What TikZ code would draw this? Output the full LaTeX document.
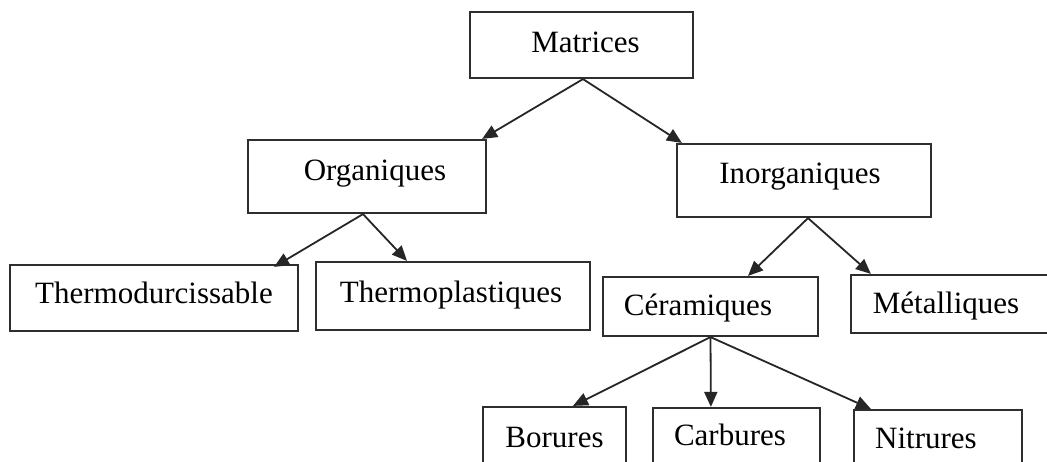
\documentclass[tikz,border=0pt]{standalone}
\usepackage{fontspec}
\setmainfont{Liberation Serif}
\usetikzlibrary{arrows.meta}
\newcommand{\txs}[2]{\hspace*{#1}#2}
\begin{document}
\begin{tikzpicture}[x=1pt,y=-1pt,
  box/.style={draw=black!82, line width=2.2pt, rectangle, inner sep=0pt,
    font=\fontsize{31}{37}\selectfont},
  arr/.style={draw=black!85, line width=1.8pt, -{Triangle[length=15pt,width=13pt]}}]
\useasboundingbox (0,0) rectangle (1047,461);
\clip (0,0) rectangle (1047,461);
\fill[white] (0,0) rectangle (1047,461);
\node[box, minimum width=223pt, minimum height=66pt, text height=21pt, text depth=7pt] (mat) at (581.5,45) {\txs{8pt}{Matrices}};
\node[box, minimum width=238pt, minimum height=73pt, text height=17.5pt, text depth=10.5pt] (org) at (367,176.5) {\txs{16pt}{Organiques}};
\node[box, minimum width=254pt, minimum height=73pt, text height=16.5pt, text depth=11.5pt] (inorg) at (804,180.5) {\txs{-8pt}{Inorganiques}};
\node[box, minimum width=288pt, minimum height=66pt, text height=19pt, text depth=9pt] (thd) at (154,298) {Thermodurcissable};
\node[box, minimum width=274pt, minimum height=68pt, text height=20pt, text depth=8pt] (thp) at (453,296) {\txs{-4pt}{Thermoplastiques}};
\node[box, minimum width=215pt, minimum height=59pt, text height=22.5pt, text depth=5.5pt] (cer) at (710.5,306.5) {\txs{-25pt}{Céramiques}};
\node[box, minimum width=197pt, minimum height=58pt, text height=23pt, text depth=5pt] (met) at (949.5,304) {\txs{-7pt}{Métalliques}};
\node[box, minimum width=143pt, minimum height=66pt, text height=21pt, text depth=7pt] (bor) at (554.5,440) {Borures};
\node[box, minimum width=167pt, minimum height=66pt, text height=18pt, text depth=10pt] (carb) at (736.5,441) {\txs{-13pt}{Carbures}};
\node[box, minimum width=168pt, minimum height=66pt, text height=19pt, text depth=9pt] (nit) at (938,443) {\txs{-24pt}{Nitrures}};
\draw[arr] ([xshift=1.5pt]mat.south) -- ([xshift=-5pt]org.north east);
\draw[arr] ([xshift=1.5pt]mat.south) -- ([xshift=6pt]inorg.north west);
\draw[arr] ([xshift=-4pt]org.south) -- ([xshift=-25pt,yshift=-3pt]thd.north east);
\draw[arr] ([xshift=-4pt]org.south) -- ([xshift=-46pt]thp.north);
\draw[arr] ([xshift=4pt]inorg.south) -- ([xshift=37.5pt]cer.north);
\draw[arr] ([xshift=4pt]inorg.south) -- ([xshift=21pt]met.north west);
\draw[arr] (cer.south) -- ([xshift=18.5pt]bor.north);
\draw[arr] (cer.south) -- ([xshift=59pt]carb.north west);
\draw[arr] (cer.south) -- ([xshift=18pt]nit.north west);
\end{tikzpicture}
\end{document}
